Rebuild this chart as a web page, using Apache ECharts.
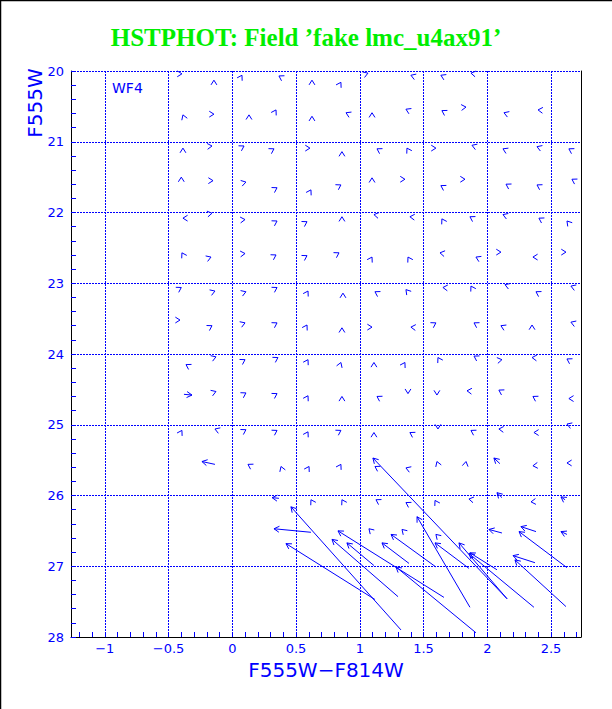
<!DOCTYPE html>
<html><head><meta charset="utf-8">
<script src="https://cdn.jsdelivr.net/npm/echarts@6/dist/echarts.min.js"></script>
<style>html,body{margin:0;padding:0;background:#fff}#c{width:612px;height:709px}</style>
</head><body><div id="c"></div>
<script>
// ---- axis ticks / labels ----
const xTickLabels = [-1, -0.5, 0, 0.5, 1, 1.5, 2, 2.5];
const yTickLabels = [20, 21, 22, 23, 24, 25, 26, 27, 28];
const xMinorTicks = [-1.2,-1.1,-1.0,-0.9,-0.8,-0.7,-0.6,-0.5,-0.4,-0.3,-0.2,-0.1,0,0.1,0.2,0.3,0.4,0.5,0.6,0.7,0.8,0.9,1.0,1.1,1.2,1.3,1.4,1.5,1.6,1.7,1.8,1.9,2.0,2.1,2.2,2.3,2.4,2.5,2.6,2.7];
const yMinorTicks = [20,20.2,20.4,20.6,20.8,21,21.2,21.4,21.6,21.8,22,22.2,22.4,22.6,22.8,23,23.2,23.4,23.6,23.8,24,24.2,24.4,24.6,24.8,25,25.2,25.4,25.6,25.8,26,26.2,26.4,26.6,26.8,27,27.2,27.4,27.6,27.8,28];
const xGridLines = [-1, -0.5, 0, 0.5, 1, 1.5, 2, 2.5];
const yGridLines = [20, 21, 22, 23, 24, 25, 26, 27];

// ---- small vectors: arrow tip position and direction (deg, screen, CCW from east) ----
const tinyX = [
 -0.395,-0.144,0.076,0.366,0.625,0.852,1.064,1.401,1.636,1.872,
 -0.387,-0.144,0.131,0.343,0.625,0.892,1.096,1.362,1.644,1.833,2.131,2.398,
 -0.387,-0.159,0.092,0.327,0.609,0.860,1.135,1.370,1.597,1.880,2.123,2.390,2.640,
 -0.40,-0.151,0.107,0.351,0.617,0.852,1.096,1.354,1.636,1.825,2.147,2.390,2.664,
 -0.387,-0.159,0.100,0.351,0.586,0.860,1.111,1.393,1.644,1.864,2.123,2.405,2.625,
 -0.395,-0.167,0.100,0.343,0.586,0.837,1.096,1.378,1.629,1.911,2.107,2.358,2.617,
 -0.40,-0.136,0.107,0.351,0.594,0.868,1.119,1.362,1.652,1.872,2.139,2.382,2.656,
 -0.41,-0.159,0.100,0.351,0.586,0.860,1.096,1.401,1.597,1.896,2.107,2.351,2.656,
 -0.363,-0.128,0.100,0.358,0.594,0.852,1.111,1.354,1.613,1.896,2.115,2.351,2.625,
 -0.128,0.107,0.351,0.594,0.860,1.135,1.378,1.605,1.841,2.091,2.358,2.640,
 -0.395,-0.136,0.107,0.351,0.594,0.852,1.111,1.393,1.613,1.872,2.091,2.366,2.625,
 0.123,0.382,0.602,0.852,1.119,1.362,1.605,1.833,2.358,2.625,
 0.617,0.860,1.127,1.362,1.590,1.856,2.343,
 1.072,1.331,1.597
];
const tinyY = [
 20.04,20.13,20.06,20.07,20.13,20.16,20.03,20.06,20.06,20.03,
 20.62,20.61,20.62,20.55,20.64,20.59,20.59,20.54,20.56,20.51,20.59,20.55,
 21.09,21.06,21.06,21.10,21.09,21.14,21.10,21.09,21.09,21.05,21.10,21.07,21.10,
 21.50,21.55,21.57,21.65,21.68,21.61,21.51,21.53,21.62,21.53,21.60,21.61,21.53,
 22.08,22.01,22.10,22.12,22.13,22.06,22.03,22.06,22.09,22.06,22.03,22.08,22.12,
 22.57,22.63,22.58,22.60,22.61,22.57,22.63,22.63,22.57,22.63,22.56,22.63,22.56,
 23.06,23.11,23.12,23.06,23.11,23.14,23.12,23.09,23.06,23.04,23.02,23.12,23.04,
 23.52,23.60,23.56,23.56,23.59,23.63,23.62,23.62,23.56,23.56,23.60,23.59,23.55,
 24.15,24.04,24.08,24.05,24.08,24.12,24.12,24.12,24.05,24.03,24.08,24.05,24.07,
 24.53,24.55,24.56,24.59,24.60,24.60,24.56,24.58,24.52,24.51,24.60,24.63,
 25.08,25.06,25.07,25.08,25.10,25.08,25.11,25.11,25.06,25.08,25.06,25.11,24.99,
 25.56,25.59,25.59,25.56,25.59,25.61,25.52,25.52,25.58,25.54,
 26.06,26.06,26.06,26.10,26.07,26.05,26.09,
 26.47,26.48,26.55
];
const tinyDir = [
 0,90,60,150,90,60,20,160,155,170,
 110,0,90,60,90,155,90,155,150,5,160,175,
 90,5,30,30,0,90,150,120,0,160,155,160,150,
 90,0,15,30,60,30,90,0,150,0,150,150,150,
 180,10,5,30,30,90,170,175,120,150,160,150,130,
 120,20,5,30,30,30,60,120,170,155,0,180,0,
 30,20,20,30,60,90,150,130,175,120,160,150,160,
 0,30,20,30,60,90,0,175,30,150,155,90,160,
 150,20,30,30,60,70,90,60,120,150,10,175,150,
 20,30,30,60,90,150,270,270,175,150,150,180,
 60,160,30,30,60,30,90,150,270,150,175,180,160,
 150,110,60,60,150,160,110,80,185,180,
 120,120,150,150,120,170,185,
 135,135,135
];

// ---- longer vectors: tail (x0,y0) -> head (x1,y1) ----
const longX0 = [-0.379,-0.136,2.155,2.099,0.366,2.115,2.610,0.617,1.323,1.119,1.300,1.660,1.111,1.386,1.597,1.911,1.864,1.856,2.155,2.076,2.366,2.115,2.382,2.625,2.374,2.617,2.625];
const longY0 = [24.57,25.56,27.46,25.55,26.04,26.03,26.06,26.52,27.90,27.47,27.43,27.44,26.99,26.96,27.01,27.94,27.58,27.03,27.46,27.05,27.58,26.53,26.51,27.02,26.95,27.57,26.55];
const longX1 = [-0.316,-0.238,1.103,2.052,0.312,2.076,2.578,0.327,0.460,0.421,0.782,0.829,0.899,1.174,1.245,1.284,1.449,1.590,1.778,1.864,1.856,2.013,2.264,2.249,2.202,2.217,2.578];
const longY1 = [24.58,25.52,25.47,25.47,26.03,25.96,26.02,26.47,26.16,26.68,26.62,26.50,26.67,26.67,26.55,27.01,26.30,26.67,26.67,26.81,26.82,26.48,26.44,26.51,26.85,26.91,26.51];

const BLUE = '#0000ff';
const chart = echarts.init(document.getElementById('c'), null, {renderer: 'svg'});

function rot(vx, vy, a) {
  const c = Math.cos(a), s = Math.sin(a);
  return [vx * c - vy * s, vx * s + vy * c];
}

const option = {
  animation: false,
  backgroundColor: '#ffffff',
  title: {
    text: 'HSTPHOT: Field \u2019fake lmc_u4ax91\u2019',
    left: 'center', top: 20,
    textStyle: {color: '#00ee00', fontFamily: 'Liberation Serif', fontWeight: 'bold', fontSize: 25}
  },
  grid: {left: 71, right: 31, top: 71, bottom: 72, containLabel: false},
  xAxis: {
    type: 'value', min: -1.265, max: 2.735,
    axisLine: {show: true, onZero: false, lineStyle: {color: '#000', width: 1}},
    axisTick: {show: true, inside: true, length: 5, customValues: xMinorTicks, lineStyle: {color: BLUE}},
    axisLabel: {
      show: true, customValues: xTickLabels, margin: 5, color: BLUE,
      fontFamily: 'DejaVu Sans', fontSize: 13,
      formatter: v => (v < 0 ? '\u2212' + Math.abs(v) : String(v))
    },
    splitLine: {show: false},
    name: 'F555W\u2212F814W', nameLocation: 'middle', nameGap: 20,
    nameTextStyle: {color: BLUE, fontFamily: 'DejaVu Sans', fontSize: 20}
  },
  yAxis: [{
    type: 'value', min: 20, max: 28, inverse: true,
    axisLine: {show: true, onZero: false, lineStyle: {color: '#000', width: 1}},
    axisTick: {show: true, inside: true, length: 5, customValues: yMinorTicks, lineStyle: {color: BLUE}},
    axisLabel: {show: true, customValues: yTickLabels, margin: 7, color: BLUE, fontFamily: 'DejaVu Sans', fontSize: 13},
    splitLine: {show: false}
  }, {
    type: 'value', min: 20, max: 28, inverse: true, position: 'right',
    axisLine: {show: true, onZero: false, lineStyle: {color: '#000', width: 1}},
    axisTick: {show: false}, axisLabel: {show: false}, splitLine: {show: false}
  }],
  graphic: [
    {type: 'text', x: 35, y: 103, rotation: Math.PI / 2,
     style: {text: 'F555W', fill: BLUE, font: '20px "DejaVu Sans"', textAlign: 'center', textVerticalAlign: 'middle'}},
    {type: 'text', x: 112, y: 88,
     style: {text: 'WF4', fill: BLUE, font: '14px "DejaVu Sans"', textAlign: 'left', textVerticalAlign: 'middle'}},
    {type: 'line', shape: {x1: 0.5, y1: 0, x2: 0.5, y2: 709}, style: {stroke: '#000', lineWidth: 1.5}},
    {type: 'line', shape: {x1: 0, y1: 0.5, x2: 612, y2: 0.5}, style: {stroke: '#000', lineWidth: 1.5}}
  ],
  series: [
    {
      type: 'line', data: [], silent: true,
      markLine: {
        silent: true, symbol: 'none', animation: false,
        label: {show: false},
        lineStyle: {color: BLUE, type: [2, 1], width: 1},
        data: xGridLines.map(v => ({xAxis: v})).concat(yGridLines.map(v => ({yAxis: v})))
      }
    },
    {
      type: 'custom', clip: false, silent: true,
      data: tinyX.map((x, i) => [x, tinyY[i], tinyDir[i]]),
      encode: {x: 0, y: 1},
      renderItem: function (params, api) {
        const p = api.coord([api.value(0), api.value(1)]);
        const a = api.value(2) * Math.PI / 180;
        const bx = -Math.cos(a), by = Math.sin(a);
        const L = 5.5, h = 32 * Math.PI / 180;
        const r1 = rot(bx, by, h), r2 = rot(bx, by, -h);
        return {
          type: 'polyline',
          shape: {points: [[p[0] + L * r1[0], p[1] + L * r1[1]], [p[0], p[1]], [p[0] + L * r2[0], p[1] + L * r2[1]]]},
          style: {stroke: BLUE, lineWidth: 1, fill: null}
        };
      }
    },
    {
      type: 'custom', clip: false, silent: true,
      data: longX0.map((x, i) => [x, longY0[i], longX1[i], longY1[i]]),
      encode: {x: [0, 2], y: [1, 3]},
      renderItem: function (params, api) {
        const p0 = api.coord([api.value(0), api.value(1)]);
        const p1 = api.coord([api.value(2), api.value(3)]);
        const dx = p1[0] - p0[0], dy = p1[1] - p0[1];
        const len = Math.sqrt(dx * dx + dy * dy) || 1;
        const bx = -dx / len, by = -dy / len;
        const L = 6, h = 30 * Math.PI / 180;
        const r1 = rot(bx, by, h), r2 = rot(bx, by, -h);
        return {
          type: 'group',
          children: [
            {type: 'line', shape: {x1: p0[0], y1: p0[1], x2: p1[0], y2: p1[1]}, style: {stroke: BLUE, lineWidth: 1}},
            {type: 'polyline',
             shape: {points: [[p1[0] + L * r1[0], p1[1] + L * r1[1]], [p1[0], p1[1]], [p1[0] + L * r2[0], p1[1] + L * r2[1]]]},
             style: {stroke: BLUE, lineWidth: 1, fill: null}}
          ]
        };
      }
    }
  ]
};
chart.setOption(option);
</script>
</body></html>
